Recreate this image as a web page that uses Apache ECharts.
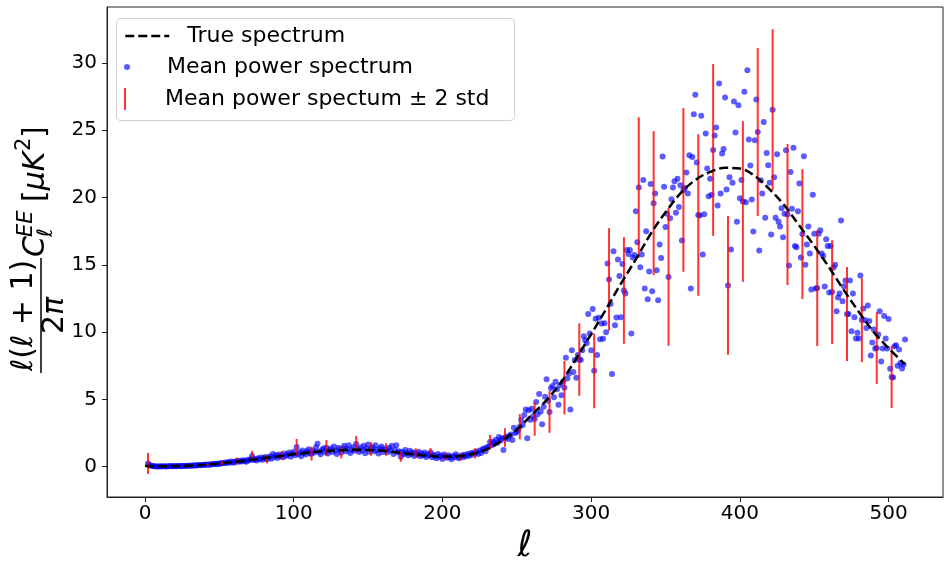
<!DOCTYPE html>
<html>
<head>
<meta charset="utf-8">
<script src="https://cdn.jsdelivr.net/npm/echarts@6/dist/echarts.min.js"></script>
<style>
html,body{margin:0;padding:0;background:#fff;}
#chart{width:950px;height:562px;}
</style>
</head>
<body>
<div id="chart"></div>
<script>
// ---------- data ----------
const ellStart = 2; // first multipole of the mean power spectrum
const meanPower = [
0.24,0.12,0.08,0.05,0.04,0.03,0.02,0.02,0.03,0.02,
0.04,0.03,0.02,0.04,0.03,0.05,0.03,0.04,0.05,0.04,
0.05,0.06,0.04,0.07,0.05,0.06,0.08,0.06,0.09,0.07,
0.08,0.10,0.09,0.11,0.10,0.13,0.11,0.14,0.13,0.16,
0.15,0.17,0.14,0.20,0.18,0.22,0.19,0.24,0.21,0.26,
0.28,0.25,0.31,0.27,0.35,0.30,0.38,0.33,0.29,0.40,
0.42,0.36,0.45,0.39,0.48,0.43,0.37,0.52,0.46,0.55,
0.80,0.50,0.58,0.47,0.62,0.55,0.68,0.51,0.64,0.72,
0.56,0.66,0.78,0.60,0.95,0.72,0.85,0.64,0.90,0.76,
0.84,0.70,0.98,0.82,0.88,1.05,0.74,0.96,1.12,0.85,
1.47,0.94,1.10,0.78,1.20,1.02,0.90,1.15,1.30,0.99,
0.97,1.18,1.05,1.45,1.70,1.12,0.92,1.25,1.38,1.08,
1.40,0.98,1.22,1.35,1.10,1.50,1.20,0.95,1.40,1.28,
1.05,1.38,1.55,1.15,1.32,1.60,1.02,1.25,1.45,1.18,
1.68,1.30,1.10,1.42,1.22,1.55,1.00,1.35,1.65,1.12,
1.32,1.45,1.15,1.60,1.25,0.98,1.38,1.50,1.10,1.30,
1.28,1.08,1.40,1.20,1.55,0.95,1.25,1.60,1.05,1.15,
0.74,1.10,0.92,1.25,1.02,0.85,1.18,0.95,1.08,0.80,
1.02,0.90,1.12,0.78,0.98,0.86,1.05,0.72,0.92,0.84,
1.06,0.70,0.88,0.78,0.62,0.95,0.74,0.82,0.58,0.90,
0.77,0.66,0.85,0.72,0.55,0.80,0.68,0.92,0.75,0.62,
0.72,0.85,0.70,0.88,0.78,0.95,0.82,1.00,0.88,1.05,
1.00,1.12,0.95,1.20,1.02,1.30,1.36,1.15,1.45,1.48,
1.83,1.60,1.85,1.70,2.00,1.78,2.20,1.95,2.10,1.24,
2.17,2.23,2.05,2.28,2.40,1.98,2.90,2.50,2.60,2.75,
2.97,3.48,3.10,3.84,4.25,2.12,4.20,3.48,4.30,3.77,
3.54,4.80,3.90,5.40,4.10,3.16,4.45,5.20,6.50,4.90,
4.07,5.82,5.99,5.16,6.31,5.75,4.60,6.07,5.30,6.31,
5.87,8.10,6.56,6.93,4.25,8.66,7.03,7.93,6.60,8.30,
7.96,7.93,8.66,9.70,9.40,9.18,11.34,9.90,8.66,11.71,
7.12,10.99,8.30,11.06,9.46,10.64,9.50,10.65,9.98,15.10,
13.91,12.08,6.88,16.00,10.50,11.09,15.40,14.16,11.10,15.05,
13.09,12.86,16.10,15.80,16.10,9.90,15.55,15.72,18.98,16.68,
20.74,14.82,15.76,21.30,13.24,17.50,12.44,14.50,21.00,13.04,
19.58,20.30,14.60,12.37,16.50,15.50,23.04,20.80,17.80,18.80,
14.10,18.45,19.86,20.75,21.20,18.86,21.40,19.30,20.90,16.80,
20.56,20.70,21.85,20.30,23.13,13.24,23.00,26.18,27.64,22.60,
18.70,18.66,26.08,15.76,18.76,24.75,22.15,20.10,21.40,20.20,
23.53,24.60,25.20,19.40,28.46,20.30,23.26,23.60,27.42,20.60,
13.46,21.50,16.13,21.10,27.13,24.82,18.20,26.85,19.94,21.30,
19.70,27.85,19.65,29.45,24.30,22.37,19.85,17.47,24.25,27.27,
24.87,16.06,21.28,20.30,25.60,18.50,23.30,22.40,21.10,17.25,
26.52,21.50,18.50,23.22,18.20,17.84,19.20,17.05,18.80,23.50,
18.73,14.95,21.90,19.17,23.70,16.40,16.30,18.97,21.03,15.55,
17.28,23.07,15.00,16.50,17.84,15.84,13.16,20.20,17.30,13.24,
13.27,17.30,17.57,15.84,15.66,13.39,16.90,16.40,12.94,16.40,
12.97,14.80,15.00,11.55,12.57,12.87,18.29,12.30,13.40,13.84,
11.34,11.35,13.84,10.07,12.87,11.10,9.52,9.95,9.52,14.20,
10.89,11.76,10.90,10.30,11.98,10.82,8.26,9.22,10.20,8.78,
8.81,9.82,11.55,7.82,8.78,11.20,9.52,8.78,10.98,7.27,
6.67,6.63,8.95,9.03,7.50,8.70,7.70,7.30,7.60,9.45
];
const errEll = [2,12,22,32,42,52,62,72,82,92,102,112,122,132,142,152,162,172,182,192,
  202,212,222,232,242,252,262,272,282,292,302,312,322,332,342,352,362,372,382,392,
  402,412,422,432,442,452,462,472,482,492,502];
const errHalf = [0.78,0.05,0.05,0.06,0.08,0.15,0.25,0.38,0.31,0.34,0.60,0.51,0.58,0.43,0.61,0.50,0.46,0.37,0.35,0.32,
  0.27,0.27,0.38,0.53,0.69,0.94,1.24,1.55,1.98,2.69,2.78,3.81,3.96,5.22,5.35,5.12,6.08,6.00,6.38,5.15,
  5.97,6.24,5.98,5.24,4.83,4.31,3.86,3.49,3.12,2.67,2.31];
const trueEll = [0,10,20,30,40,50,60,70,80,90,100,110,120,130,140,150,160,170,180,190,200,210,220,230,240,250,
  260,270,280,290,300,310,320,330,340,350,360,370,380,390,400,410,420,430,440,450,460,470,480,490,500,511];
const trueVal = [0.05,0.03,0.05,0.08,0.15,0.24,0.36,0.50,0.64,0.78,0.92,1.05,1.15,1.22,1.26,1.25,1.18,1.05,0.92,0.82,0.76,0.78,0.95,1.30,1.95,2.75,
  3.85,4.95,6.30,8.05,9.85,11.70,13.60,15.40,17.30,18.90,20.30,21.30,21.90,22.20,22.15,21.60,20.60,19.40,17.90,16.40,14.80,13.10,11.50,10.00,8.80,7.60];
const xTicks = [0,100,200,300,400,500];
const yTicks = [0,5,10,15,20,25,30];
const names = ['True spectrum','Mean power spectrum','Mean power spectum \u00b1 2 std'];

// ---------- build series data ----------
const scatterData = meanPower.map((v,i)=>[ellStart+i, v]);
const lineData = trueEll.map((e,i)=>[e, trueVal[i]]);
const errData = errEll.map((e,i)=>{const m = meanPower[e-ellStart]; return [e, m-errHalf[i], m+errHalf[i]];});

const FONT = 'DejaVu Sans';
const chart = echarts.init(document.getElementById('chart'));
const it = {fontStyle:'italic', fontFamily:FONT, fontSize:30, fill:'#000'};
const rm = {fontFamily:FONT, fontSize:30, fill:'#000'};
const legendText = {fontFamily:FONT,fontSize:22,color:'#000',rich:{a:{fontFamily:FONT,fontSize:22,color:'#000',padding:[0,0,0,13]}}};
const legendBase = {left:124,orient:'vertical',padding:0,itemGap:0,itemWidth:44,selectedMode:false,
  formatter:function(n){return '{a|'+n+'}';},textStyle:legendText};

const option = {
  animation:false,
  backgroundColor:'#fff',
  grid:{left:107,right:7,top:7,bottom:65,show:true,borderColor:'#222',borderWidth:1,containLabel:false,outerBoundsMode:'none'},
  xAxis:{type:'value',min:-25.55,max:536.55,
    name:'\u2113',nameLocation:'middle',nameGap:13,
    nameTextStyle:{fontFamily:FONT,fontStyle:'italic',fontSize:36,color:'#000',verticalAlign:'top'},
    axisLine:{show:true,onZero:false,lineStyle:{color:'#222',width:1}},
    axisTick:{show:true,length:5,customValues:xTicks,lineStyle:{color:'#222'}},
    axisLabel:{customValues:xTicks,fontFamily:FONT,fontSize:20,color:'#000',margin:7},
    splitLine:{show:false}},
  yAxis:{type:'value',min:-2.25,max:34.15,
    axisLine:{show:true,onZero:false,lineStyle:{color:'#222',width:1}},
    axisTick:{show:true,length:5,customValues:yTicks,lineStyle:{color:'#222'}},
    axisLabel:{customValues:yTicks,fontFamily:FONT,fontSize:20,color:'#000',margin:10},
    splitLine:{show:false}},
  legend:[
    Object.assign({},legendBase,{data:[names[0]],top:25,itemHeight:1,lineStyle:{width:2.5}}),
    Object.assign({},legendBase,{data:[names[1]],top:56,itemHeight:6}),
    Object.assign({},legendBase,{data:[{name:names[2],icon:'path://M0,0H2V22H0Z'}],top:88,itemHeight:22})
  ],
  graphic:[
    {type:'rect',z:3,shape:{x:116.5,y:18.5,width:398,height:102,r:4},style:{fill:'rgba(255,255,255,0.8)',stroke:'#d0d0d0',lineWidth:1}},
    {type:'group',x:8,y:373,rotation:Math.PI/2,children:[
      {type:'text',x:57.5,y:16,style:{text:'{i|\u2113}{r|(}{i|\u2113}{r| + 1)}',rich:{i:it,r:rm},font:'30px "DejaVu Sans"',fill:'#000',textAlign:'center',textVerticalAlign:'middle'}},
      {type:'line',shape:{x1:0,y1:33,x2:115,y2:33},style:{stroke:'#000',lineWidth:1.5}},
      {type:'text',x:57.5,y:47,style:{text:'{r|2}{i|\u03c0}',rich:{i:it,r:rm},font:'30px "DejaVu Sans"',fill:'#000',textAlign:'center',textVerticalAlign:'middle'}},
      {type:'text',x:116,y:28,style:{text:'C',font:'italic 30px "DejaVu Sans"',fill:'#000',textAlign:'left',textVerticalAlign:'middle'}},
      {type:'text',x:136,y:19,style:{text:'EE',font:'italic 21px "DejaVu Sans"',fill:'#000',textAlign:'left',textVerticalAlign:'middle'}},
      {type:'text',x:136,y:39,style:{text:'\u2113',font:'italic 21px "DejaVu Sans"',fill:'#000',textAlign:'left',textVerticalAlign:'middle'}},
      {type:'text',x:171,y:28,style:{text:'{r|[}{i|\u03bcK}',rich:{i:it,r:rm},font:'30px "DejaVu Sans"',fill:'#000',textAlign:'left',textVerticalAlign:'middle'}},
      {type:'text',x:222,y:17,style:{text:'2',font:'21px "DejaVu Sans"',fill:'#000',textAlign:'left',textVerticalAlign:'middle'}},
      {type:'text',x:235,y:28,style:{text:']',font:'30px "DejaVu Sans"',fill:'#000',textAlign:'left',textVerticalAlign:'middle'}}
    ]}
  ],
  series:[
    {name:names[1],type:'scatter',data:scatterData,symbol:'circle',symbolSize:6,z:2,
     itemStyle:{color:'rgba(0,0,255,0.8)'}},
    {name:names[2],type:'custom',data:errData,z:3,encode:{x:0,y:[1,2]},
     itemStyle:{color:'rgba(255,0,0,0.8)'},
     renderItem:function(params,api){
       const p1 = api.coord([api.value(0), api.value(1)]);
       const p2 = api.coord([api.value(0), api.value(2)]);
       return {type:'line',shape:{x1:p1[0],y1:p1[1],x2:p2[0],y2:p2[1]},style:{stroke:'rgba(255,0,0,0.8)',lineWidth:2}};
     }},
    {name:names[0],type:'line',data:lineData,smooth:0.35,symbol:'none',showSymbol:false,z:4,
     itemStyle:{color:'#000'},
     lineStyle:{color:'#000',width:2.5,type:[9,4]}}
  ]
};
chart.setOption(option);
</script>
</body>
</html>
